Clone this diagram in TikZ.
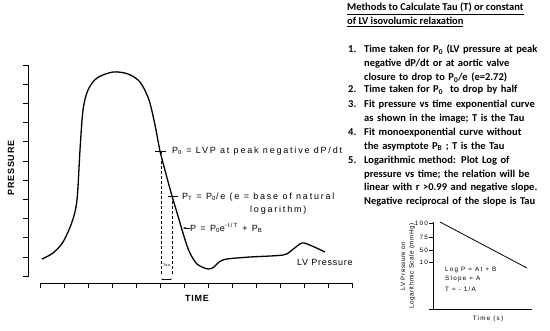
\documentclass[tikz,border=0pt]{standalone}
\usepackage{fontspec}
\setmainfont{Carlito}
\newfontfamily\plotfont[LetterSpace=20]{Liberation Sans}
\newfontfamily\axisfont[LetterSpace=8]{Liberation Sans}
\usetikzlibrary{positioning,arrows.meta}

\begin{document}
\begin{tikzpicture}[x=1pt, y=-1pt,
    curve/.style={line width=1.3pt, line join=round},
    axis/.style={line width=1pt},
    guide/.style={line width=0.8pt, dash pattern=on 3pt off 2pt},
    plotlabel/.style={inner sep=0, font=\plotfont\fontsize{9}{10}\selectfont},
    axislabel/.style={inner sep=0, font=\axisfont\bfseries\fontsize{9}{10}\selectfont},
    smalllabel/.style={inner sep=0, font=\plotfont\fontsize{6.3}{7.5}\selectfont},
    listnum/.style={inner sep=0, anchor=north west, font=\bfseries\fontsize{10.5}{13.7}\selectfont},
    listitem/.style={listnum, text width=190pt, align=left}]

    \useasboundingbox (0,0) rectangle (550,330);

    % Pressure and time axes
    \draw[axis] (28,65) -- (28,277);
    \foreach \i in {0,...,11} \draw[axis] (23,65+19.2*\i) -- (28,65+19.2*\i);
    \draw[axis] (40,283) -- (352,283);
    \foreach \i in {0,...,13} \draw[axis] (40+24*\i,283) -- (40+24*\i,288);
    \node[axislabel, rotate=90] (ylab) at (11,168) {PRESSURE};
    \node[axislabel] (xlab) at (197,298) {TIME};

    % LV pressure curve
    \draw[curve] plot[smooth, tension=0.5] coordinates {(42,259) (53,253) (63,242) (72,222) (77,200) (80,150) (83,110) (88,90) (97,78) (113,72) (128,74) (140,82) (149,100) (155,125) (160,151) (166,174) (172,196) (178,216) (183,233) (189,251) (197,264) (208,269) (214,267) (219,262) (227,259) (250,257) (283,255) (292,250) (302,243) (312,246) (325,252)};

    % P0 and PT marks with the Tau interval
    \coordinate (pzero) at (161,151);
    \coordinate (ptau) at (172,196);
    \coordinate (pzerofoot) at (161,275);
    \coordinate (ptaufoot) at (172,275);
    \draw[axis] ([xshift=-6pt]pzero) -- ([xshift=5pt]pzero);
    \draw[axis] ([xshift=-4pt]ptau) -- ([xshift=6pt]ptau);
    \draw[guide] (pzero) -- (pzerofoot);
    \draw[guide] (ptau) -- (ptaufoot);
    \node[inner sep=0, font=\axisfont\fontsize{3.8}{4}\selectfont] (taulab) at (166.5,265) {Tau};
    \draw[line width=0.5pt, {Stealth[length=1.5pt]}-{Stealth[length=1.5pt]}] ([yshift=-4pt]pzerofoot) -- ([yshift=-4pt]ptaufoot);

    \node[plotlabel, anchor=west] (pzerotext) at (172,151) {P\textsubscript{0} = LVP at peak negative dP/dt};
    \node[plotlabel, anchor=west] (ptautext) at (182,197) {P\textsubscript{T} = P\textsubscript{0}/e (e = base of natural};
    \node[plotlabel, anchor=west] (ptautext2) at (250,210) {logarithm)};
    \node[plotlabel, anchor=west] (eqtext) at (190,228) {P = P\textsubscript{0}e\textsuperscript{-t/T} + P\textsubscript{B}};
    \coordinate (eqtip) at (183,228);
    \draw[line width=0.6pt, -{Stealth[length=3pt]}] (eqtext.west) -- (eqtip);
    \node[plotlabel, font=\axisfont\fontsize{9}{10}\selectfont, anchor=west] (lvlabel) at (297,262) {LV Pressure};

    % Methods list
    \node[listnum, align=left] (title) at (347,3) {\underline{Methods to Calculate Tau (T) or constant}\\\underline{of LV isovolumic relaxation}};
    \node[listnum] (num1) at (348,45) {1.};
    \node[listitem] (item1) at (364,45) {Time taken for P\textsubscript{0} (LV pressure at peak\\negative dP/dt or at aortic valve\\closure to drop to P\textsubscript{0}/e (e=2.72)};
    \node[listnum] (num2) at (348,85) {2.};
    \node[listitem] (item2) at (364,85) {Time taken for P\textsubscript{0}\ \ to drop by half};
    \node[listnum] (num3) at (348,100) {3.};
    \node[listitem] (item3) at (364,100) {Fit pressure vs time exponential curve\\as shown in the image; T is the Tau};
    \node[listnum] (num4) at (348,128) {4.};
    \node[listitem] (item4) at (364,128) {Fit monoexponential curve without\\the asymptote P\textsubscript{B} ; T is the Tau};
    \node[listnum] (num5) at (348,156) {5.};
    \node[listitem] (item5) at (364,156) {Logarithmic method: Plot Log of\\pressure vs time; the relation will be\\linear with r >0.99 and negative slope.\\Negative reciprocal of the slope is Tau};

    % Log plot inset
    \draw[line width=0.7pt] (433,222) -- (433,310);
    \draw[line width=0.7pt] (429,309) -- (532,309);
    \foreach \v/\y in {100/223,75/237,50/250,10/262} {
        \draw[line width=0.6pt] (429,\y) -- (433,\y);
        \node[smalllabel, anchor=east] (tick\v) at (428,\y) {\v};
    }
    \draw[line width=0.8pt] (440,222) -- (527,268);
    \node[smalllabel, anchor=west] (logeq) at (445,270) {Log P = At + B};
    \node[smalllabel, anchor=west] (slope) at (445,279) {Slope = A};
    \node[smalllabel, anchor=west] (tauinv) at (445,289) {T = - 1/A};
    \node[smalllabel] (timelab) at (488,319) {Time (s)};
    \node[smalllabel, font=\axisfont\fontsize{6.3}{7.5}\selectfont, rotate=90] (insetylab1) at (403,266) {LV Pressure on};
    \node[smalllabel, font=\axisfont\fontsize{6.3}{7.5}\selectfont, rotate=90] (insetylab2) at (412,266) {Logarithmic Scale (mmHg)};
\end{tikzpicture}
\end{document}
